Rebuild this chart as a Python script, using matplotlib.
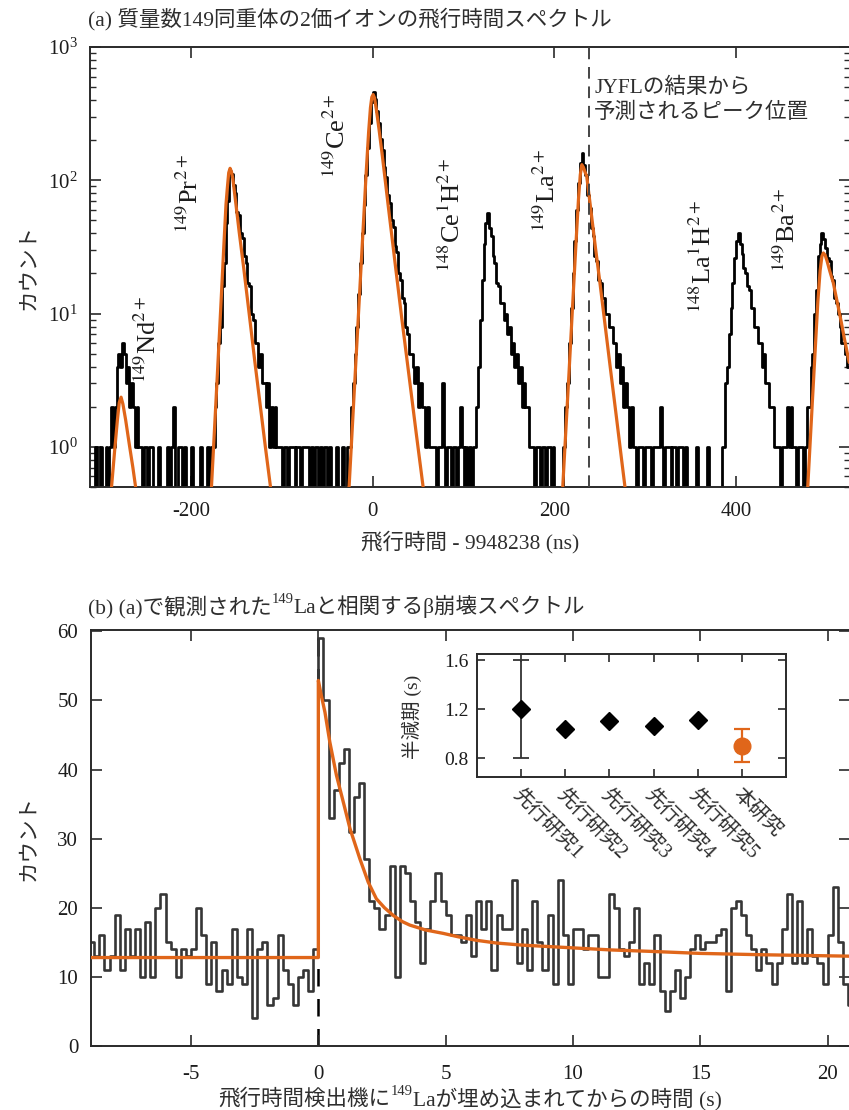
#!/usr/bin/env python3
# Two-panel figure: (a) TOF spectrum of the A=149 doubly-charged isobars (log counts),
# (b) beta-decay time spectrum correlated with 149La, plus a half-life comparison inset.
import numpy as np
import matplotlib; matplotlib.use("Agg")
import matplotlib.pyplot as plt
from matplotlib.ticker import LogLocator, NullFormatter

plt.rcParams['font.family'] = ['Liberation Serif', 'Noto Sans CJK JP']
plt.rcParams['mathtext.fontset'] = 'stix'
plt.rcParams['axes.unicode_minus'] = False

INK = "#1c1c1c"; JP = "#2e2e2e"; ORG = "#e0661a"; HIST = "#363636"; SPINE = "#2a2a2a"

# ---- (a) time-of-flight histogram, 2 ns bins (bins not listed are empty)
TOF_LO, TOF_HI, TOF_W = -312, 524, 2
nd_start, nd_counts = -300, [1, 0, 0, 1, 0, 1, 2, 1, 2, 4, 5, 4, 6, 5, 3, 4, 2, 3, 2, 1, 2, 1, 1, 0, 1, 1, 0, 1, 1]
pr_start, pr_counts = -178, [1, 1, 2, 3, 6, 8, 16, 24, 48, 70, 118, 112, 92, 80, 58, 55, 40, 37, 27, 24,
                             17, 16, 10, 9, 6, 6, 4, 5, 3, 3, 2, 3, 1, 2, 1, 2, 1, 1]
prt_start, prt_counts = -102, [1, 0, 1, 1, 0, 1, 1, 1, 0, 1, 1, 0, 1, 1, 1, 1, 0, 1, 0, 1, 1, 0, 1, 0, 1, 1, 0, 1]
ce_start, ce_counts = -28, [1, 1, 2, 3, 5, 8, 14, 24, 40, 65, 110, 175, 270, 390, 460,
                            410, 330, 270, 205, 170, 125, 105, 78, 68, 50, 45, 32, 29, 20, 18, 13, 12,
                            8, 7, 5, 5, 4, 3, 4, 2, 3, 2, 2, 1, 2, 1, 1]
cet_start, cet_counts = 66, [1, 1, 0, 1, 1, 3, 1, 0, 1, 1, 0, 1, 1, 0, 1, 2, 1, 0, 1, 0, 1, 0, 1]
ceh_start, ceh_counts = 112, [1, 2, 4, 9, 18, 33, 48, 57, 44, 38, 27, 24, 17, 16, 12, 12, 9, 10, 7, 8,
                              5, 6, 4, 5, 3, 4, 2, 3, 2, 2, 1, 1, 1, 0, 1, 1, 0, 1, 1, 0, 1, 1, 0, 1]
la_start, la_counts = 208, [0, 1, 2, 3, 6, 11, 20, 35, 60, 95, 135, 160, 130, 110, 78, 62, 44, 38, 27, 25,
                            18, 17, 13, 13, 10, 10, 8, 8, 6, 6, 4, 5, 3, 4, 2, 3, 2, 1, 2, 1,
                            1, 0, 1, 1, 1, 0, 1, 1, 1, 0, 1, 1, 1]
gap_start, gap_counts = 314, [1, 2, 1, 0, 1, 1, 1, 0, 1, 1, 0, 1, 1, 1, 0, 1]
lah_start, lah_counts = 384, [1, 1, 3, 4, 7, 11, 17, 26, 35, 40, 33, 28, 22, 20, 16, 15, 11, 11, 8, 8,
                              6, 6, 4, 5, 3, 3, 2, 2, 2, 1, 1, 1, 0, 1, 1, 1, 2, 1, 2, 1, 1, 0, 1, 1, 1, 0]
ba_start, ba_counts = 476, [1, 2, 2, 4, 5, 10, 15, 27, 33, 40, 36, 31, 26, 25, 19, 18, 13, 12, 10, 8, 6, 6, 5, 4]
spike_ns = [-306, -236, -226, -222, -220, -214, -212, -208, -200, -190, -182, -40, -34, 356, 368]
spike_counts = [1, 1, 1, 1, 2, 1, 1, 1, 1, 1, 1, 1, 1, 1, 1]

# fitted peak shapes
fit_nd_x = [-287.5, -284, -281, -279, -277, -275, -272, -268, -264, -261]
fit_nd_y = [0.5, 0.95, 1.6, 2.15, 2.36, 2.1, 1.6, 1.05, 0.7, 0.5]
fit_pr_x = [-177.5, -175, -171, -167, -164, -161.5, -160, -158.5, -157, -155.5, -154, -151, -147, -142, -136, -130, -124, -118, -112.5]
fit_pr_y = [0.5, 1.05, 3.5, 12, 31, 66, 88, 114, 123, 116, 103, 70, 41, 22, 10, 4.5, 2.1, 0.98, 0.5]
fit_ce_x = [-26, -23, -19, -15, -11, -7, -4.5, -2.5, -1, 0.5, 2, 4, 7, 11, 17, 24, 32, 40, 48, 55.5]
fit_ce_y = [0.5, 1.19, 3.8, 12, 38, 120, 230, 350, 420, 440, 415, 340, 240, 145, 65, 26, 9.2, 3.4, 1.25, 0.5]
fit_la_x = [209.2, 212, 216, 220, 224, 226.5, 228.5, 230.2, 232, 233.8, 235.6, 240, 245, 250, 256, 262, 268, 274, 277.7]
fit_la_y = [0.5, 1.12, 3.5, 11.3, 36, 72, 110, 131, 125, 115, 107, 61, 32, 17.3, 8.0, 3.7, 1.73, 0.8, 0.5]
fit_ba_x = [478.9, 481, 484, 487, 490, 492.5, 494.5, 496.1, 498, 500, 503, 507, 511, 515, 519, 524.5]
fit_ba_y = [0.5, 0.92, 2.2, 5.2, 12.3, 21, 27, 28.5, 27.5, 25, 21, 17, 12.5, 9.2, 6.6, 4.3]

JYFL_NS = 238.5
peak_labels = [r"$^{149}$Nd$^{2+}$", r"$^{149}$Pr$^{2+}$", r"$^{149}$Ce$^{2+}$", r"$^{148}$Ce$^{1}$H$^{2+}$",
               r"$^{149}$La$^{2+}$", r"$^{148}$La$^{1}$H$^{2+}$", r"$^{149}$Ba$^{2+}$"]
peak_label_x = [-247.4, -201, -39.3, 87.3, 191.9, 363.6, 456.1]
peak_label_y = [3.0, 40.3, 104.4, 20.5, 41.0, 10.1, 20.5]

# ---- (b) decay-time histogram, 0.2 s bins from -9 s
DEC_LO, DEC_W = -9.0, 0.2
pre_counts = [15, 13, 16, 11, 13, 19, 11, 17, 13, 17, 10, 18, 10, 20, 22, 15, 14, 10, 14, 13,
              14, 20, 16, 9, 15, 8, 11, 9, 17, 10, 9, 17, 4, 14, 15, 6, 7, 16, 11, 9, 6, 10, 11, 8, 14]
post_counts = [59, 50, 33, 37, 41, 43, 31, 36, 38, 27, 21, 20, 17, 19, 26, 10,
               26, 25, 21, 18, 12, 17, 21, 25, 21, 19,
               16, 16, 15, 19, 13, 21, 17, 21, 11, 19,
               17, 17, 24, 12, 17, 11, 21, 15, 11, 19,
               9, 24, 16, 9, 17, 17, 14, 16, 16, 10,
               10, 22, 20, 14, 13, 15, 20, 9, 12, 9,
               16, 8, 5, 8, 11, 7, 10, 14, 16, 14,
               15, 15, 16, 17, 8, 20, 21, 19, 16, 14,
               11, 14, 12, 9, 12, 17, 22, 12, 21, 12,
               17, 13, 12, 9, 16, 23, 15, 9, 6]
fit_b_x = [-8.94, 0, 0, 0.1, 0.26, 0.45, 0.71, 0.98, 1.24, 1.63, 1.96, 2.28, 2.6, 2.94, 3.3, 3.59, 4.2, 4.9,
           5.5, 6.2, 7, 8, 9, 10, 11.5, 13, 15, 17.5, 20.84]
fit_b_y = [12.8, 12.8, 52.9, 51.0, 48.3, 44.0, 39.2, 35.3, 31.5, 27.1, 23.7, 21.3, 20.0, 18.9, 18.0, 17.5, 16.8, 16.3,
           15.8, 15.3, 14.9, 14.6, 14.4, 14.2, 13.9, 13.7, 13.4, 13.2, 13.0]

# ---- inset: half-life comparison
study_labels = ["先行研究1", "先行研究2", "先行研究3", "先行研究4", "先行研究5", "本研究"]
half_life = [1.20, 1.04, 1.10, 1.06, 1.11, 0.90]
half_life_err = [0.40, 0.0, 0.0, 0.0, 0.0, 0.135]

W, H = 849, 1110
fig = plt.figure(figsize=(W / 100, H / 100), dpi=100)
fig.patch.set_facecolor("white")
R = fig.canvas.get_renderer()

def style(ax, size=15, pad=8):
    for s in ax.spines.values():
        s.set_color(SPINE); s.set_linewidth(1.4)
    ax.tick_params(which="both", direction="in", top=True, right=True, colors=SPINE,
                   labelcolor=INK, labelsize=size, pad=pad)
    ax.tick_params(which="major", length=8, width=1.2)
    ax.tick_params(which="minor", length=4, width=1.0)

def rich(x_px, y_base, parts, size=15.5, ha="left"):
    # lay out (text, superscript?) pieces one after another; mixed CJK + raised isotope numbers
    arts, x = [], x_px
    for s, sup in parts:
        fs = size * 0.68 if sup else size
        rise = size * 0.45 * 100 / 72 if sup else 0
        t = fig.text(x / W, 1 - (y_base - rise) / H, s, fontsize=fs, color=JP, ha="left", va="baseline")
        x = t.get_window_extent(R).x1
        arts.append(t)
    if ha == "center":
        shift = (x - x_px) / 2 / W
        for t in arts:
            px, py = t.get_position(); t.set_position((px - shift, py))

# ================= (a)
ax = fig.add_axes([90 / W, 1 - 487 / H, 760 / W, 440 / H])
edges = np.arange(TOF_LO, TOF_HI + TOF_W, TOF_W)
counts = np.zeros(len(edges) - 1)
for start, vals in [(nd_start, nd_counts), (pr_start, pr_counts), (prt_start, prt_counts),
                    (ce_start, ce_counts), (cet_start, cet_counts), (ceh_start, ceh_counts),
                    (la_start, la_counts), (gap_start, gap_counts), (lah_start, lah_counts),
                    (ba_start, ba_counts)]:
    i = (start - TOF_LO) // TOF_W
    counts[i:i + len(vals)] = vals
for ns, c in zip(spike_ns, spike_counts):
    counts[(ns - TOF_LO) // TOF_W] = c
shown = np.where(counts > 0, counts, 0.05)
ax.set_yscale("log")
ax.step(edges, np.append(shown, shown[-1]), where="post", color="black", lw=2.0, zorder=2)
for fx, fy in [(fit_nd_x, fit_nd_y), (fit_pr_x, fit_pr_y), (fit_ce_x, fit_ce_y),
               (fit_la_x, fit_la_y), (fit_ba_x, fit_ba_y)]:
    ax.plot(fx, fy, color=ORG, lw=2.3, zorder=3, solid_capstyle="round")
ax.axvline(JYFL_NS, color="#444", ls=(0, (6, 4)), lw=1.4, zorder=4)
ax.set_xlim(-311.2, 525.4)
ax.set_ylim(0.5, 1000)
ax.set_xticks([-200, 0, 200, 400])
ax.yaxis.set_major_locator(LogLocator(base=10, numticks=10))
ax.yaxis.set_minor_locator(LogLocator(base=10, subs=np.arange(2, 10), numticks=20))
ax.yaxis.set_minor_formatter(NullFormatter())
style(ax, 15, 9)
ax.tick_params(axis="x", pad=11)
for lab, lx, ly in zip(peak_labels, peak_label_x, peak_label_y):
    ax.text(lx, ly, lab, rotation=90, ha="center", va="bottom", fontsize=19, color=INK)
ax.text(243.8, 495, "JYFLの結果から", fontsize=15.5, color=JP, ha="left", va="center")
ax.text(243.8, 321, "予測されるピーク位置", fontsize=15.5, color=JP, ha="left", va="center")

rich(88, 25, [("(a) 質量数149同重体の2価イオンの飛行時間スペクトル", False)])
rich(470, 548, [("飛行時間 - 9948238 (ns)", False)], ha="center")
fig.text(30 / W, 1 - 267 / H, "カウント", fontsize=15.5, color=JP, rotation=90, ha="center", va="center")

# ================= (b)
bx = fig.add_axes([90.7 / W, 1 - 1046 / H, 759.3 / W, 416 / H])
dec = np.array(pre_counts + post_counts, dtype=float)
dedges = DEC_LO + DEC_W * np.arange(len(dec) + 1)
bx.step(dedges, np.append(dec, dec[-1]), where="post", color=HIST, lw=1.9, zorder=2)
bx.axvline(0, color="black", ls=(0, (7, 5)), lw=1.8, zorder=1)
bx.plot(fit_b_x, fit_b_y, color=ORG, lw=2.4, zorder=3)
bx.set_xlim(-8.94, 20.88)
bx.set_ylim(0, 60.2)
bx.set_xticks([-5, 0, 5, 10, 15, 20])
bx.set_yticks([0, 10, 20, 30, 40, 50, 60])
style(bx, 15, 9)
bx.tick_params(axis="x", pad=14)

rich(88, 613, [("(b) (a)で観測された", False), ("149", True), ("Laと相関するβ崩壊スペクトル", False)])
rich(470, 1105, [("飛行時間検出機に", False), ("149", True), ("Laが埋め込まれてからの時間 (s)", False)], ha="center")
fig.text(30 / W, 1 - 838 / H, "カウント", fontsize=15.5, color=JP, rotation=90, ha="center", va="center")

# ================= inset
ix = fig.add_axes([477 / W, 1 - 777 / H, 309 / W, 123 / H])
xpos = np.arange(1, len(study_labels) + 1)
ix.errorbar(xpos[:5], half_life[:5], yerr=half_life_err[:5], fmt="D", color="black", ms=9,
            ecolor="#333", elinewidth=1.3, capsize=6, capthick=1.3, zorder=3)
ix.errorbar(xpos[5:], half_life[5:], yerr=half_life_err[5:], fmt="o", color=ORG, ms=12,
            ecolor=ORG, elinewidth=1.6, capsize=6, capthick=1.6, zorder=3)
ix.set_xlim(0, 7)
ix.set_ylim(0.645, 1.65)
ix.set_yticks([0.8, 1.2, 1.6])
ix.set_xticks(xpos)
style(ix, 14, 6)
ix.tick_params(which="major", length=6)
ix.set_xticklabels(study_labels, rotation=-45, ha="left", va="top", rotation_mode="anchor",
                   fontsize=14.5, color=JP)
fig.text(412 / W, 1 - 717 / H, "半減期 (s)", fontsize=14, color=JP, rotation=90, ha="center", va="center")

fig.savefig("out.png", dpi=100, facecolor="white")
